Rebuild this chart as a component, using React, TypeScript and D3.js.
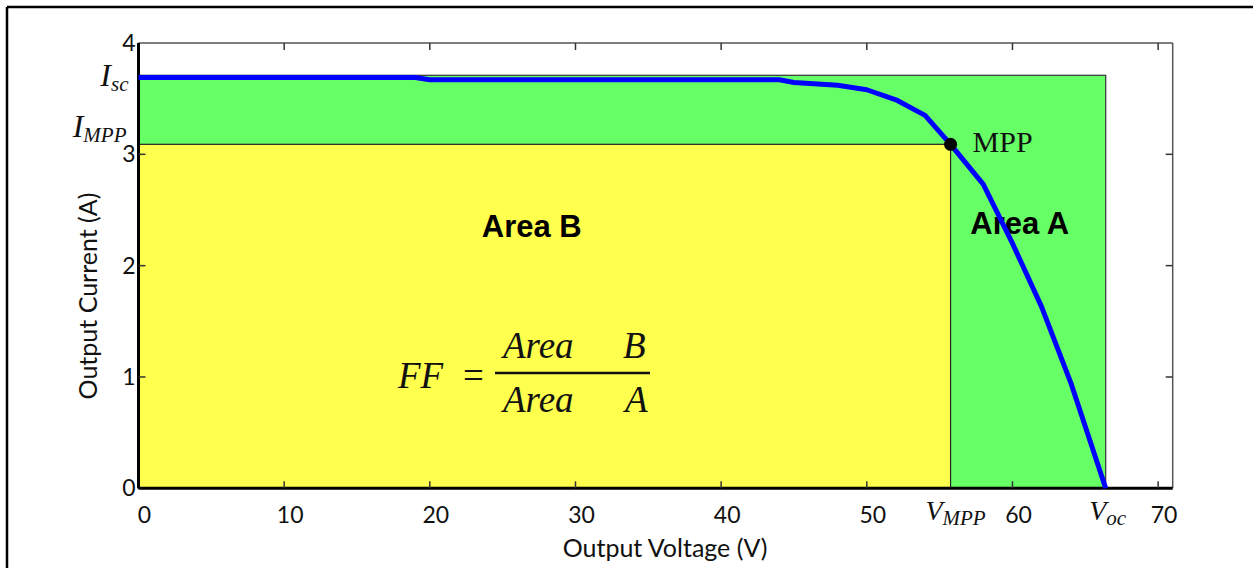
import React, { useRef, useEffect } from "react"
import * as d3 from "d3"

// I-V curve of the panel
const voltage = [0, 19, 20, 44, 45, 48, 50, 52, 54, 55.75, 58, 60, 62, 64, 66.4]
const current = [3.69, 3.69, 3.67, 3.67, 3.645, 3.62, 3.58, 3.49, 3.35, 3.09, 2.73, 2.2, 1.63, 0.95, 0]

const xTicks = [0, 10, 20, 30, 40, 50, 60, 70]
const yTicks = [0, 1, 2, 3, 4]

const isc = 3.71
const impp = 3.09
const vmpp = 55.75
const voc = 66.4

const W = 1253
const H = 568
const sans = "Lato, 'Open Sans', sans-serif"
const serif = "'Liberation Serif', 'DejaVu Serif', serif"

function App() {
  const ref = useRef<SVGSVGElement>(null)

  useEffect(() => {
    const svg = d3.select(ref.current)
    svg.selectAll("*").remove()

    const x = d3.scaleLinear().domain([0, 71]).range([138.5, 1172.7])
    const y = d3.scaleLinear().domain([0, 4]).range([488.3, 43])

    // outer frame (only top and left edges show)
    svg.append("line").attr("x1", 7).attr("y1", 7).attr("x2", W).attr("y2", 7)
      .attr("stroke", "#000").attr("stroke-width", 2.5)
    svg.append("line").attr("x1", 7).attr("y1", 7).attr("x2", 7).attr("y2", H)
      .attr("stroke", "#000").attr("stroke-width", 2.5)

    // Area A (green) and Area B (yellow)
    svg.append("rect")
      .attr("x", x(0)).attr("y", y(isc))
      .attr("width", x(voc) - x(0)).attr("height", y(0) - y(isc))
      .attr("fill", "#66ff66").attr("stroke", "#333").attr("stroke-width", 1.2)
    svg.append("rect")
      .attr("x", x(0)).attr("y", y(impp))
      .attr("width", x(vmpp) - x(0)).attr("height", y(0) - y(impp))
      .attr("fill", "#ffff4d").attr("stroke", "#222").attr("stroke-width", 1.2)

    // axes box
    svg.append("line").attr("x1", x(0)).attr("y1", y(4)).attr("x2", x(71)).attr("y2", y(4))
      .attr("stroke", "#555").attr("stroke-width", 1.5)
    svg.append("line").attr("x1", x(71)).attr("y1", y(4)).attr("x2", x(71)).attr("y2", y(0))
      .attr("stroke", "#555").attr("stroke-width", 1.5)
    svg.append("line").attr("x1", x(0)).attr("y1", y(0)).attr("x2", x(71)).attr("y2", y(0))
      .attr("stroke", "#000").attr("stroke-width", 3)
    svg.append("line").attr("x1", x(0)).attr("y1", y(4)).attr("x2", x(0)).attr("y2", y(0))
      .attr("stroke", "#000").attr("stroke-width", 3)

    const ticks = svg.append("g").attr("stroke", "#333").attr("stroke-width", 1.5)
    xTicks.filter(t => t > 0).forEach(t => {
      ticks.append("line").attr("x1", x(t)).attr("x2", x(t)).attr("y1", y(0)).attr("y2", y(0) - 7)
      ticks.append("line").attr("x1", x(t)).attr("x2", x(t)).attr("y1", y(4)).attr("y2", y(4) + 7)
    })
    yTicks.filter(t => t > 0 && t < 4).forEach(t => {
      ticks.append("line").attr("x1", x(0)).attr("x2", x(0) + 7).attr("y1", y(t)).attr("y2", y(t))
      ticks.append("line").attr("x1", x(71)).attr("x2", x(71) - 7).attr("y1", y(t)).attr("y2", y(t))
    })

    // tick labels
    svg.append("g").selectAll("text").data(xTicks).join("text")
      .attr("x", d => x(d) + 6).attr("y", y(0) + 27).attr("dy", "0.35em")
      .attr("text-anchor", "middle").attr("font-family", sans).attr("font-size", 23)
      .attr("fill", "#111").text(d => d)
    svg.append("g").selectAll("text").data(yTicks).join("text")
      .attr("x", x(0) - 3).attr("y", d => y(d)).attr("dy", "0.35em")
      .attr("text-anchor", "end").attr("font-family", sans).attr("font-size", 23)
      .attr("fill", "#111").text(d => d)

    // axis titles
    svg.append("text").attr("x", 665).attr("y", 548).attr("dy", "0.35em")
      .attr("text-anchor", "middle").attr("font-family", sans).attr("font-size", 25)
      .attr("fill", "#111").text("Output Voltage (V)")
    svg.append("text").attr("transform", "translate(88,296) rotate(-90)").attr("dy", "0.35em")
      .attr("text-anchor", "middle").attr("font-family", sans).attr("font-size", 25)
      .attr("fill", "#111").text("Output Current (A)")

    // symbolic labels on the axes
    const sym = (px: number, py: number, anchor: string, main: string, sub: string, size: number) => {
      const t = svg.append("text").attr("x", px).attr("y", py).attr("text-anchor", anchor)
        .attr("font-family", serif).attr("font-style", "italic").attr("fill", "#111")
      t.append("tspan").attr("font-size", size).text(main)
      t.append("tspan").attr("font-size", 21).attr("dy", 5).text(sub)
    }
    sym(x(0) - 10, y(isc) + 11, "end", "I", "sc", 32)
    sym(x(0) - 12, y(impp) - 7, "end", "I", "MPP", 32)
    sym(x(vmpp) + 5, y(0) + 32, "middle", "V", "MPP", 28)
    sym(x(voc) + 2, y(0) + 32, "middle", "V", "oc", 28)

    // area labels
    svg.append("text").attr("x", x(27)).attr("y", y(2.26)).attr("text-anchor", "middle")
      .attr("font-family", "'Liberation Sans', Arial, sans-serif").attr("font-weight", "bold")
      .attr("font-size", 31).attr("fill", "#000").text("Area B")
    svg.append("text").attr("x", x(60.5)).attr("y", y(2.28)).attr("text-anchor", "middle")
      .attr("font-family", "'Liberation Sans', Arial, sans-serif").attr("font-weight", "bold")
      .attr("font-size", 31).attr("fill", "#000").text("Area A")

    // fill factor formula
    const f = svg.append("g").attr("font-family", serif).attr("font-size", 37)
      .attr("font-style", "italic").attr("fill", "#111")
    f.append("text").attr("x", 398).attr("y", 388).text("FF")
    f.append("text").attr("x", 463).attr("y", 388).attr("font-style", "normal").text("=")
    f.append("text").attr("x", 503).attr("y", 358).text("Area")
    f.append("text").attr("x", 623).attr("y", 358).text("B")
    f.append("text").attr("x", 503).attr("y", 412).text("Area")
    f.append("text").attr("x", 625).attr("y", 412).text("A")
    svg.append("line").attr("x1", 495).attr("x2", 650).attr("y1", 373).attr("y2", 373)
      .attr("stroke", "#111").attr("stroke-width", 2.5)

    // I-V curve
    const pts = voltage.map((v, i) => [v, current[i]] as [number, number])
    const line = d3.line<[number, number]>().x(d => x(d[0])).y(d => y(d[1]))
    svg.append("path").datum(pts).attr("d", line)
      .attr("fill", "none").attr("stroke", "#0000ff").attr("stroke-width", 5)
      .attr("stroke-linejoin", "round")

    // maximum power point
    svg.append("circle").attr("cx", x(vmpp)).attr("cy", y(impp)).attr("r", 6.5).attr("fill", "#000")
    svg.append("text").attr("x", x(vmpp) + 22).attr("y", y(impp) + 8)
      .attr("font-family", serif).attr("font-size", 30).attr("fill", "#111").text("MPP")
  }, [])

  return (
    <svg ref={ref} width={W} height={H}
      style={{ position: "absolute", left: 0, top: 0, background: "#fff" }} />
  )
}

export default App
